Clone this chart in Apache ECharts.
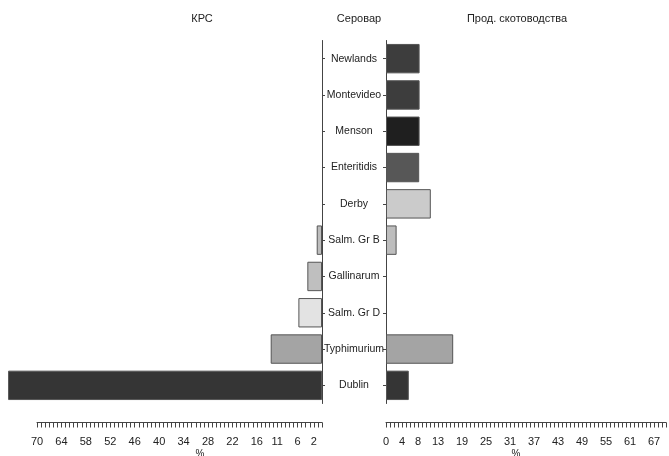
<!DOCTYPE html>
<html>
<head>
<meta charset="utf-8">
<script src="https://cdn.jsdelivr.net/npm/echarts@6/dist/echarts.min.js"></script>
<style>
  html, body { margin: 0; padding: 0; background: #fff; }
  #chart { width: 669px; height: 456px; }
</style>
</head>
<body>
<div id="chart"></div>
<script>
const serovars = ['Newlands', 'Montevideo', 'Menson', 'Enteritidis', 'Derby',
  'Salm. Gr B', 'Gallinarum', 'Salm. Gr D', 'Typhimurium', 'Dublin'];
const krsValues = [0, 0, 0, 0, 0, 1.3, 3.6, 5.8, 12.6, 77.1];
const prodValues = [8.4, 8.4, 8.4, 8.3, 11.2, 2.65, 0, 0, 16.8, 5.7];
const barColors = ['#3d3d3d', '#3d3d3d', '#1f1f1f', '#575757', '#cbcbcb',
  '#bdbdbd', '#bfbfbf', '#e3e3e3', '#a4a4a4', '#353535'];
const krsTickLabels = [70, 64, 58, 52, 46, 40, 34, 28, 22, 16, 11, 6, 2];
const prodTickLabels = [0, 4, 8, 13, 19, 25, 31, 37, 43, 49, 55, 61, 67];

const font = 'Liberation Sans, Arial, sans-serif';
const textColor = '#222';
const lineColor = '#444';

function barData(values) {
  return values.map((v, i) => ({
    value: v === 0 ? '-' : v,
    itemStyle: { color: barColors[i] }
  }));
}

function combAxis(gridIndex, inverse, labels) {
  return {
    type: 'value',
    gridIndex: gridIndex,
    inverse: inverse,
    min: 0,
    max: 70,
    interval: 1,
    offset: 19,
    position: 'bottom',
    axisLine: { show: true, onZero: false, lineStyle: { color: lineColor, width: 1 } },
    axisTick: { show: true, length: 5, lineStyle: { color: lineColor } },
    splitLine: { show: false },
    axisLabel: {
      color: textColor,
      fontFamily: font,
      fontSize: 11,
      margin: 14,
      formatter: v => labels.includes(v) ? String(v) : ''
    }
  };
}

const chart = echarts.init(document.getElementById('chart'));
chart.setOption({
  animation: false,
  textStyle: { fontFamily: font },
  title: [
    { text: 'КРС', left: 197, top: 8, textAlign: 'center', textStyle: { fontSize: 11, fontWeight: 'normal', color: textColor } },
    { text: 'Серовар', left: 354, top: 8, textAlign: 'center', textStyle: { fontSize: 11, fontWeight: 'normal', color: textColor } },
    { text: 'Прод. скотоводства', left: 512, top: 8, textAlign: 'center', textStyle: { fontSize: 11, fontWeight: 'normal', color: textColor } },
    { text: '%', left: 195, top: 444, textAlign: 'center', textStyle: { fontSize: 10, fontWeight: 'normal', color: textColor } },
    { text: '%', left: 511, top: 444, textAlign: 'center', textStyle: { fontSize: 10, fontWeight: 'normal', color: textColor } }
  ],
  grid: [
    { left: 37, width: 285, top: 40.5, height: 363 },
    { left: 386, width: 282, top: 40.5, height: 363 }
  ],
  xAxis: [
    combAxis(0, true, krsTickLabels),
    combAxis(1, false, prodTickLabels)
  ],
  yAxis: [
    {
      type: 'category',
      gridIndex: 0,
      data: serovars,
      inverse: true,
      position: 'right',
      axisLine: { show: true, lineStyle: { color: lineColor } },
      axisTick: { show: true, length: 3, alignWithLabel: true, lineStyle: { color: lineColor } },
      axisLabel: { color: textColor, fontSize: 10.5, fontFamily: font, align: 'center', margin: 32 }
    },
    {
      type: 'category',
      gridIndex: 1,
      data: serovars,
      inverse: true,
      position: 'left',
      axisLine: { show: true, lineStyle: { color: lineColor } },
      axisTick: { show: true, length: 3, alignWithLabel: true, lineStyle: { color: lineColor } },
      axisLabel: { show: false }
    }
  ],
  series: [
    {
      type: 'bar',
      xAxisIndex: 0,
      yAxisIndex: 0,
      clip: false,
      barCategoryGap: '19%',
      itemStyle: { borderColor: '#555', borderWidth: 1 },
      data: barData(krsValues)
    },
    {
      type: 'bar',
      xAxisIndex: 1,
      yAxisIndex: 1,
      clip: false,
      barCategoryGap: '19%',
      itemStyle: { borderColor: '#555', borderWidth: 1 },
      data: barData(prodValues)
    }
  ]
});
</script>
</body>
</html>
